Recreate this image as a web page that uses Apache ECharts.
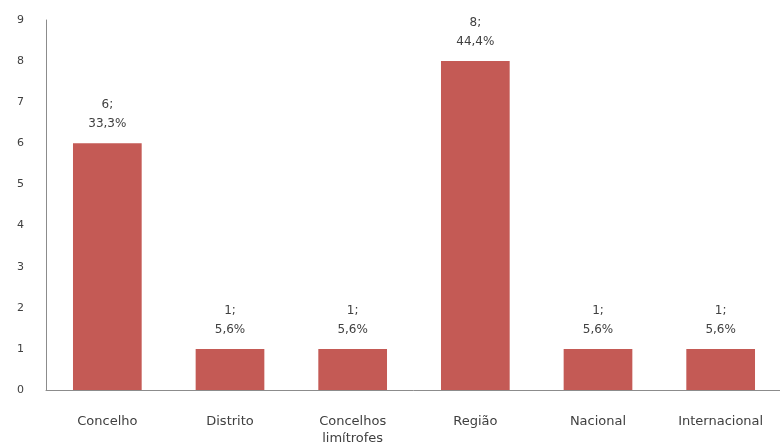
<!DOCTYPE html>
<html>
<head>
<meta charset="utf-8">
<script src="https://cdn.jsdelivr.net/npm/echarts@6/dist/echarts.min.js"></script>
<style>
  html, body { margin: 0; padding: 0; background: #fff; }
  #chart { width: 780px; height: 443px; }
</style>
</head>
<body>
<div id="chart"></div>
<script>
// Origem geográfica das respostas
const categories = ['Concelho', 'Distrito', 'Concelhos\nlimítrofes', 'Região', 'Nacional', 'Internacional'];
const counts = [6, 1, 1, 8, 1, 1];
const percents = ['33,3%', '5,6%', '5,6%', '44,4%', '5,6%', '5,6%'];
const yTicks = [0, 1, 2, 3, 4, 5, 6, 7, 8, 9];

const FONT = '"DejaVu Sans", Verdana, sans-serif';
const chart = echarts.init(document.getElementById('chart'), null, { renderer: 'canvas' });

chart.setOption({
  animation: false,
  backgroundColor: '#ffffff',
  grid: {
    left: 46, top: 20, width: 736, height: 370,
    containLabel: false,
    outerBoundsMode: 'none'
  },
  xAxis: {
    type: 'category',
    data: categories,
    axisLine: { lineStyle: { color: '#8c8c8c', width: 1 } },
    axisTick: { show: false },
    axisLabel: {
      color: '#404040',
      fontFamily: FONT,
      fontSize: 13,
      margin: 23,
      lineHeight: 17,
      interval: 0
    }
  },
  yAxis: {
    type: 'value',
    min: yTicks[0],
    max: yTicks[yTicks.length - 1],
    interval: 1,
    axisLine: { show: true, lineStyle: { color: '#8c8c8c', width: 1 } },
    axisTick: { show: false },
    splitLine: { show: false },
    axisLabel: {
      color: '#404040',
      fontFamily: FONT,
      fontSize: 11,
      margin: 22
    }
  },
  series: [{
    type: 'bar',
    data: counts,
    barWidth: '56%',
    itemStyle: { color: '#c45a55' },
    label: {
      show: true,
      position: 'top',
      distance: 10,
      color: '#404040',
      fontFamily: FONT,
      fontSize: 12,
      lineHeight: 19,
      formatter: p => p.value + ';\n' + percents[p.dataIndex]
    }
  }]
});
</script>
</body>
</html>
